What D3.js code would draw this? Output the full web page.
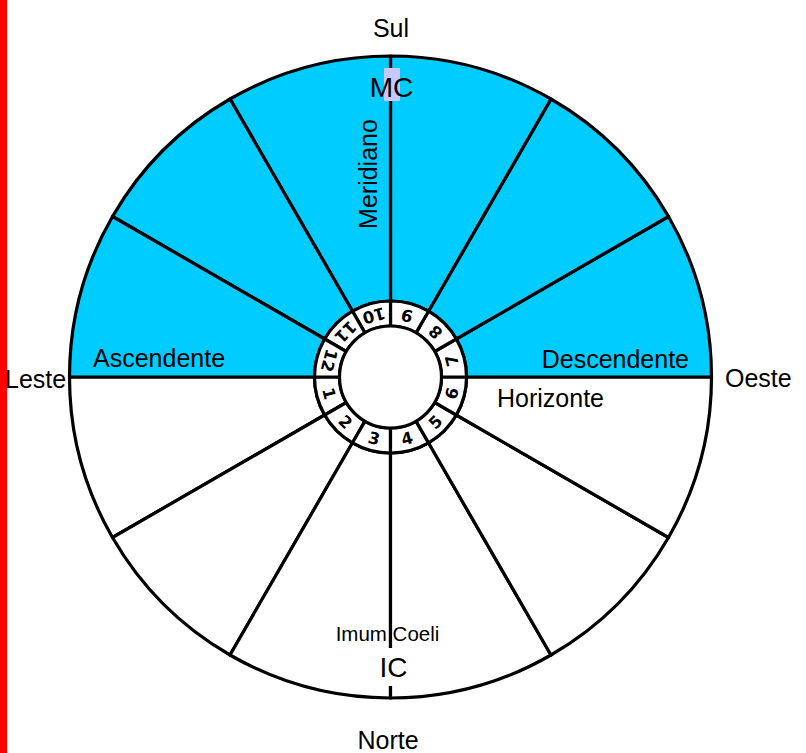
<!DOCTYPE html>
<html>
<head>
<meta charset="utf-8">
<script src="https://cdn.jsdelivr.net/npm/d3@7"></script>
<style>
  html, body { margin: 0; padding: 0; background: #fff; }
  svg { display: block; }
  text { font-family: "Liberation Sans", Arial, sans-serif; fill: #000; }
</style>
</head>
<body>
<svg id="chart" width="806" height="753"></svg>
<script>
// houses, counted counter-clockwise from the Ascendant
const houses = [1, 2, 3, 4, 5, 6, 7, 8, 9, 10, 11, 12];
const upperHouses = [7, 8, 9, 10, 11, 12];   // above the horizon, coloured

// compass points and axis labels
const compass = ["Sul", "Norte", "Leste", "Oeste"];
const axisLabels = ["Ascendente", "Descendente", "Horizonte", "Meridiano", "MC", "IC", "Imum Coeli"];

const width = 806, height = 753;
const cx = 390.5, cy = 377;
const R = 321, ringOuter = 76, ringInner = 51;

const svg = d3.select("#chart");

// red bar on the left edge
svg.append("rect")
  .attr("x", 0).attr("y", 0)
  .attr("width", 7).attr("height", height)
  .attr("fill", "#ff0000");

const g = svg.append("g").attr("transform", `translate(${cx},${cy})`);

// house k spans d3 angles (270 - 30k) .. (300 - 30k) degrees
const angle = d3.scaleLinear().domain([0, 12]).range([270, -90]);
const rad = d => d * Math.PI / 180;

const houseArc = d3.arc().innerRadius(ringOuter).outerRadius(R);
const ringArc = d3.arc().innerRadius(ringInner).outerRadius(ringOuter);

// big house sectors
g.selectAll("path.house")
  .data(houses)
  .enter().append("path")
  .attr("class", "house")
  .attr("d", k => houseArc({ startAngle: rad(angle(k)), endAngle: rad(angle(k - 1)) }))
  .attr("fill", k => upperHouses.includes(k) ? "#00ccff" : "#ffffff")
  .attr("stroke", "#000")
  .attr("stroke-width", 3.2)
  .attr("stroke-linejoin", "round");

// small numbered ring
g.selectAll("path.cell")
  .data(houses)
  .enter().append("path")
  .attr("class", "cell")
  .attr("d", k => ringArc({ startAngle: rad(angle(k)), endAngle: rad(angle(k - 1)) }))
  .attr("fill", "#fff")
  .attr("stroke", "#000")
  .attr("stroke-width", 3.2);

g.append("circle")
  .attr("r", ringInner)
  .attr("fill", "#fff")
  .attr("stroke", "#000")
  .attr("stroke-width", 3.2);

// house numbers, rotated so their top faces the centre
const rText = (ringInner + ringOuter) / 2;
g.selectAll("text.num")
  .data(houses)
  .enter().append("text")
  .attr("class", "num")
  .attr("transform", k => {
    const a = angle(k - 0.5);            // d3 angle (from top, clockwise)
    const x = rText * Math.sin(rad(a));
    const y = -rText * Math.cos(rad(a));
    return `translate(${x},${y}) rotate(${a - 180})`;
  })
  .attr("text-anchor", "middle")
  .attr("dy", "0.36em")
  .style("font-family", "'DejaVu Sans', sans-serif")
  .style("font-weight", "bold")
  .style("font-size", "16.5px")
  .text(k => k);

// compass points
const cText = (t, x, y, anchor) => svg.append("text")
  .attr("x", x).attr("y", y)
  .attr("text-anchor", anchor)
  .style("font-size", "25px")
  .text(t);

cText(compass[0], 391, 37, "middle");
cText(compass[1], 388, 749, "middle");
cText(compass[2], 5, 388, "start");
cText(compass[3], 725, 387, "start");

// axis labels
cText(axisLabels[0], 93, 367, "start");
cText(axisLabels[1], 689, 368, "end");
cText(axisLabels[2], 497, 407, "start");

svg.append("text")
  .attr("transform", "translate(377,174) rotate(-90)")
  .attr("text-anchor", "middle")
  .style("font-size", "25px")
  .text(axisLabels[3]);

// MC with its highlighted box over the meridian line
svg.append("rect")
  .attr("x", 384).attr("y", 68)
  .attr("width", 16).attr("height", 33)
  .attr("fill", "#c8c8ff");
svg.append("text")
  .attr("x", 391.5).attr("y", 97)
  .attr("text-anchor", "middle")
  .style("font-size", "28px")
  .text(axisLabels[4]);

// IC with a white box hiding the line
svg.append("rect")
  .attr("x", 378).attr("y", 648)
  .attr("width", 32).attr("height", 38)
  .attr("fill", "#fff");
svg.append("text")
  .attr("x", 393.5).attr("y", 677)
  .attr("text-anchor", "middle")
  .style("font-size", "28px")
  .text(axisLabels[5]);

svg.append("text")
  .attr("x", 387.5).attr("y", 641)
  .attr("text-anchor", "middle")
  .style("font-size", "20.5px")
  .text(axisLabels[6]);
</script>
</body>
</html>
